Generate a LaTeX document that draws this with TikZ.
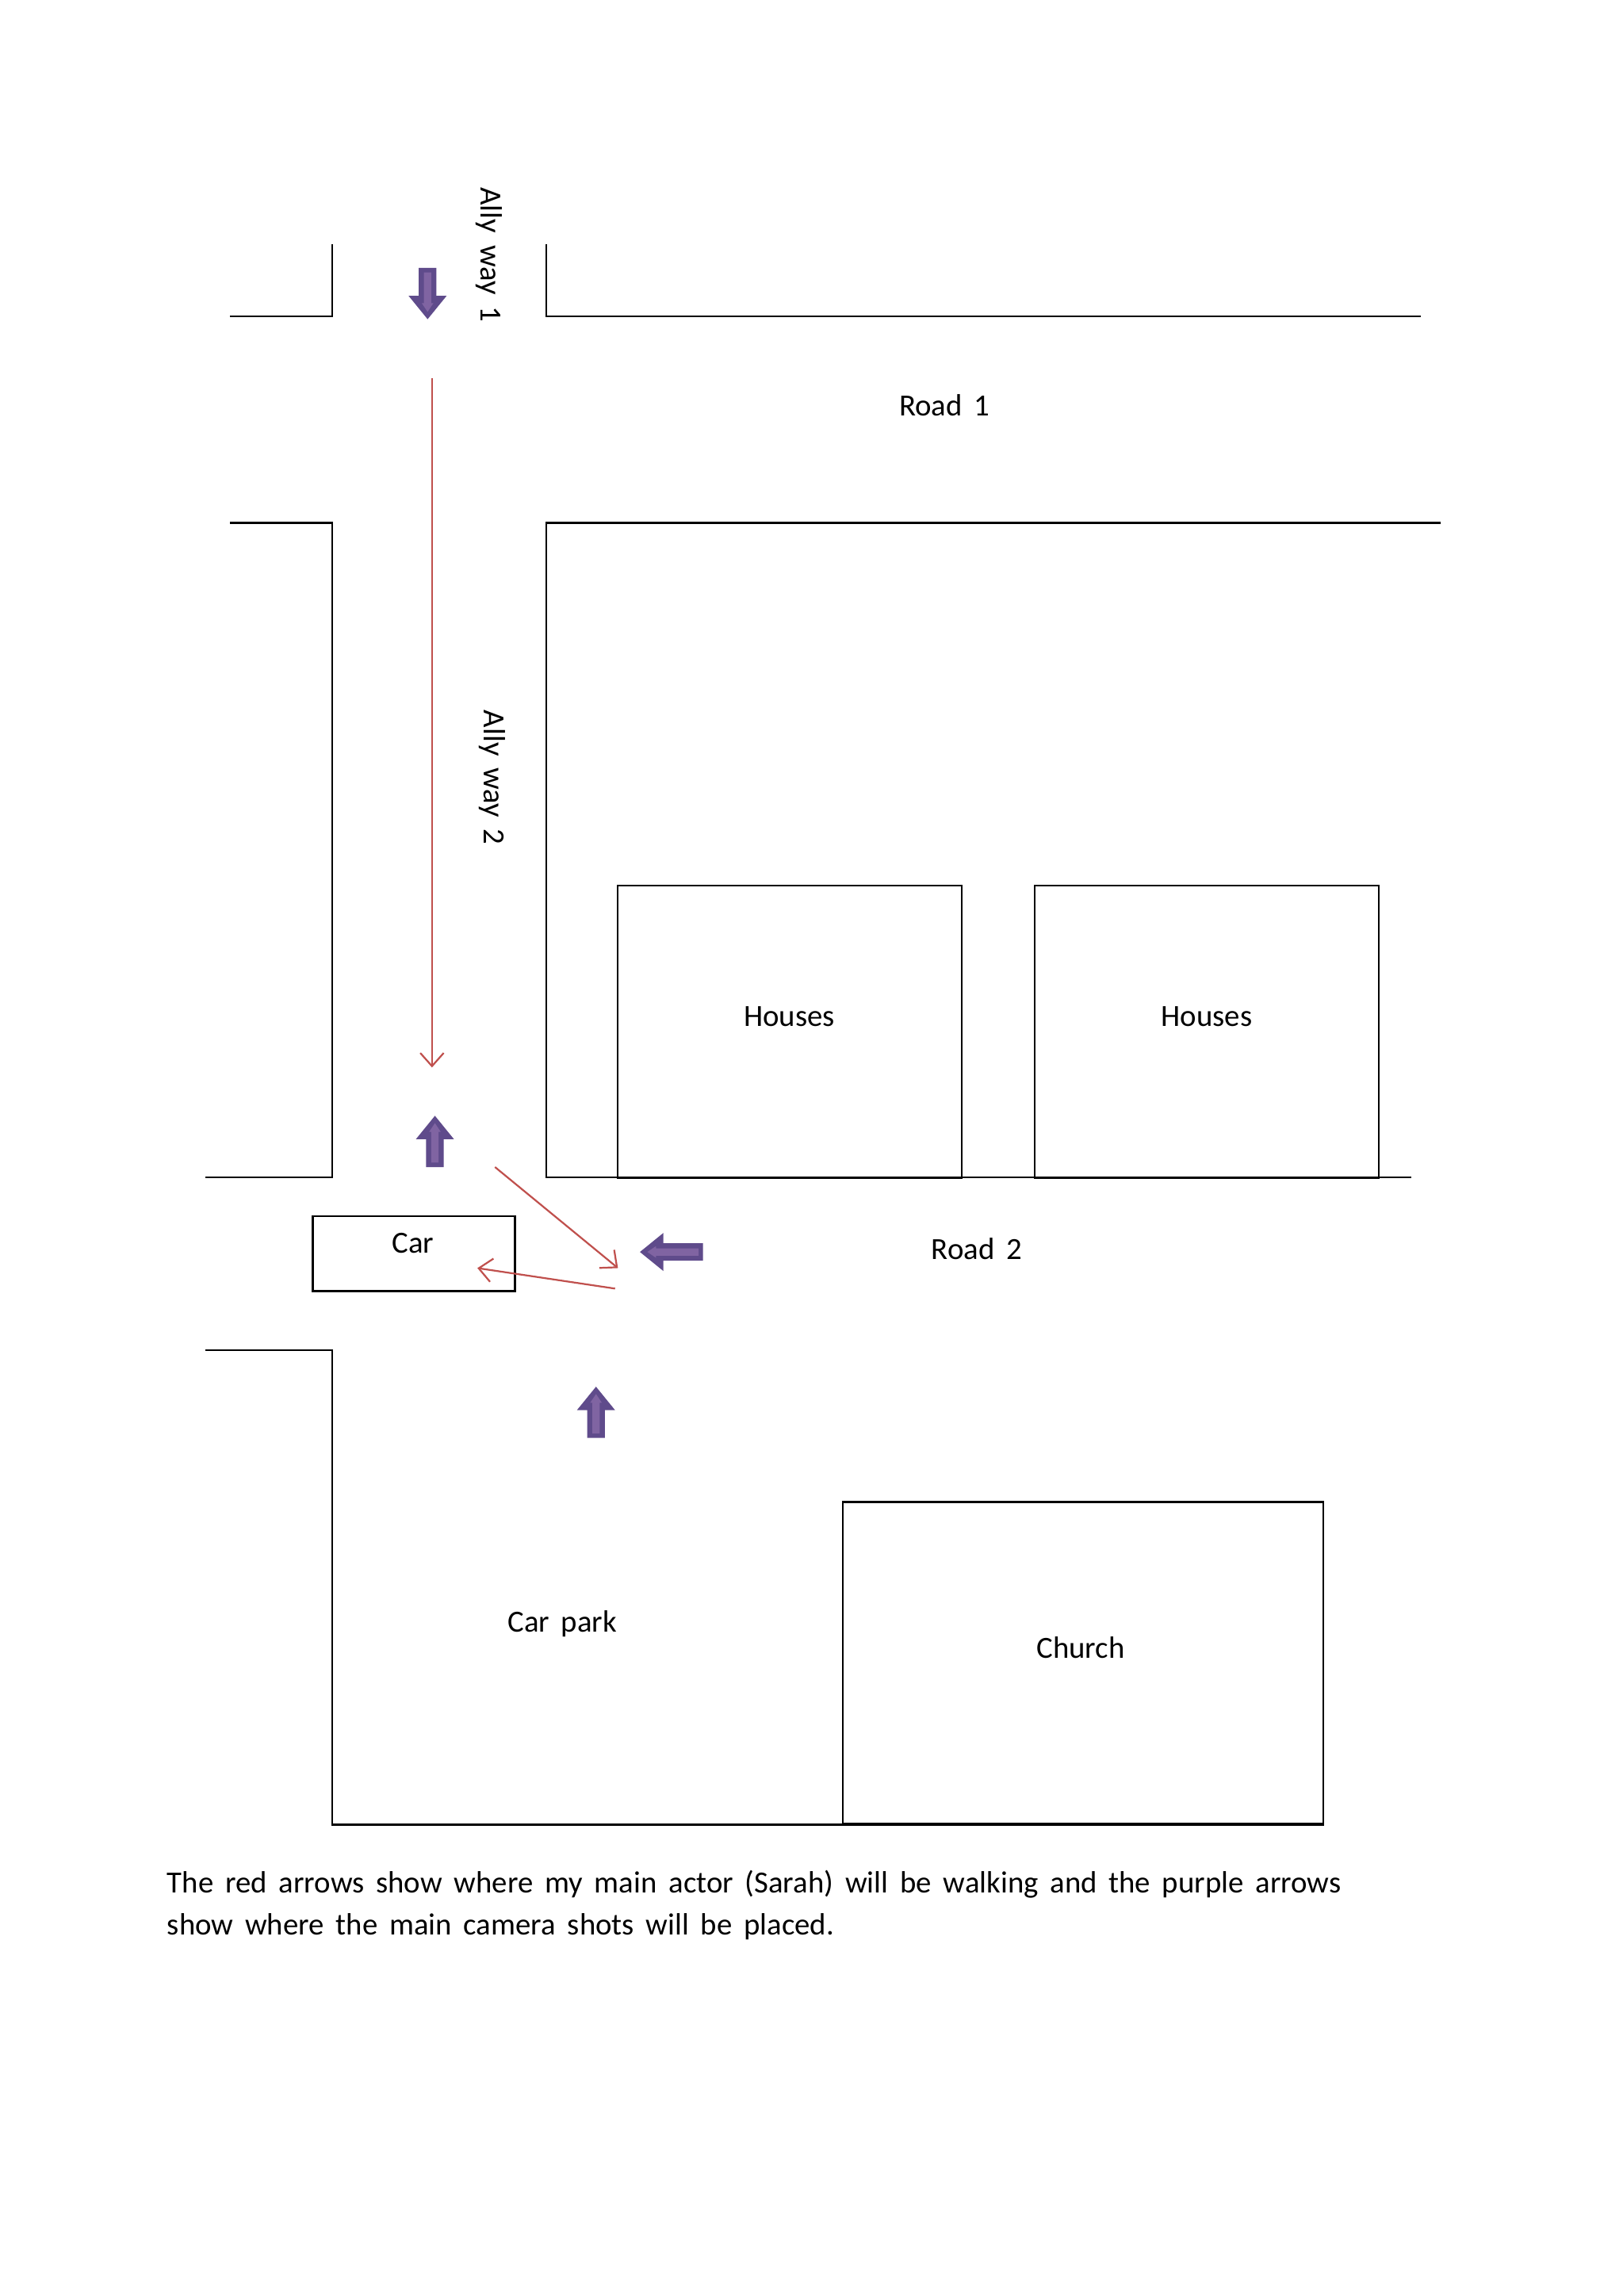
\documentclass[tikz,border=0pt]{standalone}
\usepackage{fontspec}
\setmainfont{Carlito}
\usetikzlibrary{arrows.meta}
\definecolor{redar}{HTML}{C0504D}
\definecolor{purp}{HTML}{5F4B8B}
\definecolor{purpl}{HTML}{8064A2}
\newcommand\mylblfont{\fontsize{21}{25}\selectfont\spaceskip=8pt plus 1pt\relax}
\tikzset{
  wall/.style={draw=black,line width=1.3pt},
  redarrow/.style={draw=redar,line width=1.2pt,-{Straight Barb[length=9pt,width=16pt]}},
  lbl/.style={font=\mylblfont,inner sep=0pt},
  camarrow/.pic={
    \fill[purp] (0,0) -- (13,16) -- (6,16) -- (6,35) -- (-6,35) -- (-6,16) -- (-13,16) -- cycle;
    \fill[purpl] (0,5) -- (4,11) -- (2.5,11) -- (2.5,32) -- (-2.5,32) -- (-2.5,11) -- (-4,11) -- cycle;
  },
  longcamarrow/.pic={
    \fill[purp] (0,0) -- (13,16) -- (6,16) -- (6,43) -- (-6,43) -- (-6,16) -- (-13,16) -- cycle;
    \fill[purpl] (0,5) -- (4,11) -- (2.5,11) -- (2.5,40) -- (-2.5,40) -- (-2.5,11) -- (-4,11) -- cycle;
  }
}
\begin{document}
\begin{tikzpicture}[x=1pt,y=-1pt]
\useasboundingbox[fill=white] (0,0) rectangle (1108,1568);
% walls
\draw[wall] (157,216) -- (227,216) -- (227,167);
\draw[wall] (373,167) -- (373,216) -- (970,216);
\draw[wall] (157,357) -- (227,357) -- (227,804) -- (140,804);
\draw[wall] (984,357) -- (373,357) -- (373,804) -- (964,804);
\draw[wall] (140,922) -- (227,922) -- (227,1246) -- (904,1246);
\node[wall,minimum width=235pt,minimum height=200pt,anchor=north west] (h1) at (421,604) {};
\node[wall,minimum width=235pt,minimum height=200pt,anchor=north west] (h2) at (706,604) {};
\node[wall,minimum width=138pt,minimum height=51pt,anchor=north west] (car) at (213,830) {};
\node[wall,minimum width=328pt,minimum height=220pt,anchor=north west] (church) at (575,1025) {};
% labels
\node[lbl] (t1) at (539,694) {Houses};
\node[lbl] (t2) at (824,694) {Houses};
\node[lbl] (tc) at (282,849) {Car};
\node[lbl] (tch) at (738,1125) {Church};
\node[lbl] (tcp) at (384,1109) {Car park};
\node[lbl] (r1) at (645,277) {Road 1};
\node[lbl] (r2) at (667,853) {Road 2};
\node[lbl,rotate=-90] (a1) at (334,174) {Ally way 1};
\node[lbl,rotate=-90] (a2) at (336,531) {Ally way 2};
% red arrows
\coordinate (p1) at (295,258);
\coordinate (p2) at (295,729);
\coordinate (p3) at (338,797);
\coordinate (p4) at (422,866);
\coordinate (p5) at (420,880);
\coordinate (p6) at (326,866);
\draw[redarrow] (p1) -- (p2);
\draw[redarrow] (p3) -- (p4);
\draw[redarrow] (p5) -- (p6);
% camera arrows
\pic at (297,762) {camarrow};
\pic at (407,947) {camarrow};
\pic[rotate=180] at (292,218) {camarrow};
\pic[rotate=90] at (437,855) {longcamarrow};
% caption
\node[lbl,anchor=west] (cap1) at (114,1287) {The red arrows show where my main actor (Sarah) will be walking and the purple arrows};
\node[lbl,anchor=west] (cap2) at (114,1316) {show where the main camera shots will be placed.};
\end{tikzpicture}
\end{document}
